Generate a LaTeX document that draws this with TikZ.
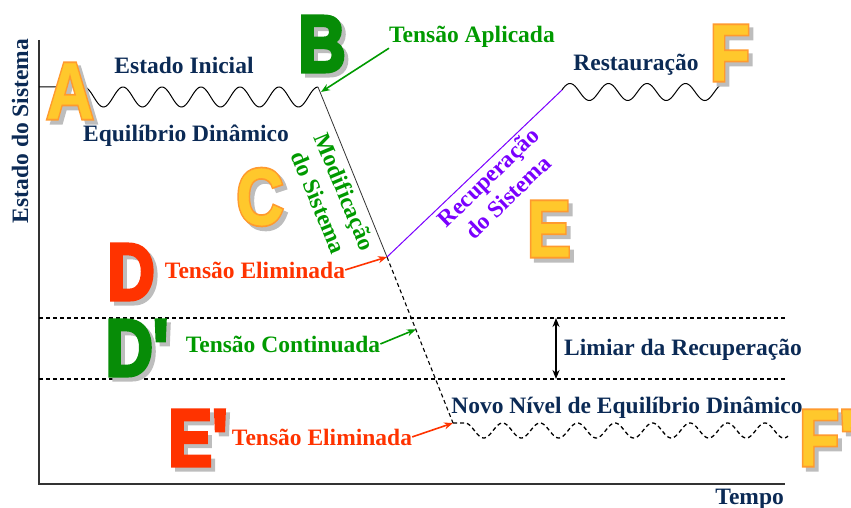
\documentclass[tikz,border=0pt]{standalone}
\usepackage{fontspec}
\setmainfont{Liberation Serif}
\newfontfamily\letheavy{Liberation Sans}[FakeBold=5]
\newfontfamily\letlight{Liberation Sans}[FakeBold=0.5]
\usetikzlibrary{arrows.meta,calc}
\definecolor{navy}{HTML}{0B2A55}
\definecolor{tgreen}{HTML}{009A00}
\definecolor{lgreen}{HTML}{078C07}
\definecolor{tred}{HTML}{FF3300}
\definecolor{tpurple}{HTML}{7A00FF}
\definecolor{lorange}{HTML}{FF9A2E}
\definecolor{lyellow}{HTML}{FFC82C}
\definecolor{lshadow}{HTML}{BDBDBD}
\definecolor{axisgray}{HTML}{333333}
\tikzset{
  lbl/.style={font=\fontsize{23.5}{28}\selectfont\bfseries, inner sep=0pt},
  biglet/.style={font=\letheavy\bfseries\fontsize{80}{80}\selectfont, inner sep=0pt, xscale=0.82},
  bigin/.style={font=\letlight\bfseries\fontsize{80}{80}\selectfont, inner sep=0pt, xscale=0.82},
  axisline/.style={draw=axisgray, line width=1.6pt},
  wave/.style={draw=black, line width=1pt},
  dwave/.style={draw=black, line width=1.3pt, dash pattern=on 4pt off 3pt},
  hdash/.style={draw=black, line width=1.2pt, dash pattern=on 4pt off 3pt},
  arr/.style={line width=1.6pt, -{Stealth[length=9pt,width=7pt]}},
}
\newcommand\orangeletter[4]{% name, x, y, text
  \node[biglet, text=lshadow] (#1s) at (#2+4,#3+4) {#4};
  \node[biglet, text=lorange] (#1) at (#2,#3) {#4};
  \node[bigin, text=lyellow] (#1g) at (#2,#3) {#4};}
\newcommand\flatletter[5]{% name, x, y, text, colour
  \node[biglet, text=lshadow] (#1s) at (#2+4,#3+4) {#4};
  \node[biglet, text=#5] (#1) at (#2,#3) {#4};}
\begin{document}
\begin{tikzpicture}[x=1pt,y=-1pt]
\useasboundingbox (0,0) rectangle (851,508);
% key points
\coordinate (Ytop) at (39,40);
\coordinate (O) at (39,484);
\coordinate (Xend) at (785,484);
\coordinate (Bpt) at (318,87);
\coordinate (Btip) at (321,92);
\coordinate (Dpt) at (387,257);
\coordinate (Epp) at (453,423);
\coordinate (Fst) at (562,90);
\coordinate (Cp) at ($(Dpt)!0.436!(Epp)$);
\coordinate (h1a) at (39,318);
\coordinate (h1b) at (785,318);
\coordinate (h2a) at (39,379);
\coordinate (h2b) at (785,379);
\coordinate (L1) at (556,318);
\coordinate (L2) at (556,379);
% axes
\draw[axisline] (Ytop) -- (O) -- (Xend);
% threshold lines
\draw[hdash] (h1a) -- (h1b);
\draw[hdash] (h2a) -- (h2b);
\draw[line width=1.8pt, {Stealth[length=9pt,width=7pt]}-{Stealth[length=9pt,width=7pt]}] (L1) -- (L2);
% initial wave
\draw[wave] (39,87) -- (58,87) -- plot[domain=60:318, samples=220, smooth] (\x,{97-10*cos(9.2308*(\x-84))});
% modification line
\draw[draw=black!80, line width=0.8pt] (Bpt) -- (Dpt);
\draw[hdash, line width=1.1pt] (Dpt) -- (Epp);
% recovery line
\draw[draw=tpurple, line width=1pt] (Dpt) -- (Fst);
% restored wave
\draw[wave] (Fst) -- plot[domain=563:728, samples=150, smooth] (\x,{92-8.5*cos(9.3506*(\x-570))});
% new level wave
\draw[dwave] (Epp) -- (463,423) -- plot[domain=465:788, samples=260, smooth] (\x,{430.5-7.5*cos(9.6*(\x-465))});
% big letters
\orangeletter{A}{70}{91}{A}
\flatletter{B}{322}{44}{B}{lgreen}
\orangeletter{C}{260}{197}{C}
\flatletter{D}{131}{272}{D}{tred}
\flatletter{Dp}{137}{348}{D'}{lgreen}
\orangeletter{E}{549}{229}{E}
\flatletter{Ep}{198}{438}{E'}{tred}
\orangeletter{F}{730}{53}{F}
% texts
\node[lbl, text=navy, rotate=90, anchor=base] (ys) at (28,131) {Estado do Sistema};
\node[lbl, text=navy, anchor=base] (ei) at (184,74) {Estado Inicial};
\node[lbl, text=navy, anchor=base] (eq) at (186,142) {Equilíbrio Dinâmico};
\node[lbl, text=tgreen, anchor=base] (ta) at (472,43) {Tensão Aplicada};
\node[lbl, text=navy, anchor=base] (rs) at (636,71) {Restauração};
\node[lbl, text=tgreen, rotate=-67.5, align=center] (ms) at (332,197) {Modificação\\do Sistema};
\node[lbl, text=tpurple, rotate=44, align=center] (rc) at (498,187) {Recuperação\\do Sistema};
\node[lbl, text=tred, anchor=base] (te1) at (255,278) {Tensão Eliminada};
\node[lbl, text=tgreen, anchor=base] (tc) at (283,352) {Tensão Continuada};
\node[lbl, text=navy, anchor=base] (lr) at (683,355) {Limiar da Recuperação};
\node[lbl, text=navy, anchor=base] (nv) at (627,413) {Novo Nível de Equilíbrio Dinâmico};
\node[lbl, text=tred, anchor=base] (te2) at (322,445) {Tensão Eliminada};
\node[lbl, text=navy, anchor=base east] (tp) at (784,504) {Tempo};
% arrows
\draw[arr, draw=tgreen, fill=tgreen] (ta.south west) -- (Btip);
\draw[arr, draw=tred, fill=tred] (te1.east) -- (Dpt);
\draw[arr, draw=tgreen, fill=tgreen] (tc.east) -- (Cp);
\draw[arr, draw=tred, fill=tred] (te2.east) -- (Epp);
% F' letter (over the text)
\orangeletter{Fp}{827}{438}{F'}
\end{tikzpicture}
\end{document}
